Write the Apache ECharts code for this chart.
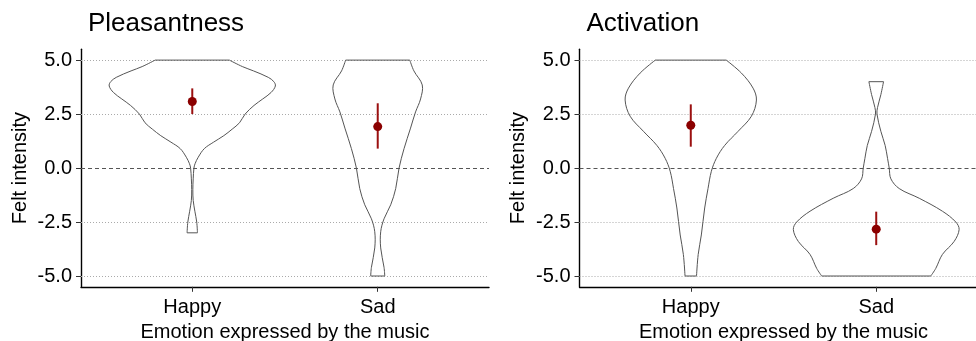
<!DOCTYPE html>
<html><head><meta charset="utf-8">
<script src="https://cdn.jsdelivr.net/npm/echarts@6/dist/echarts.min.js"></script>
<style>html,body{margin:0;padding:0;background:#fff}#c{width:976px;height:341px}</style>
</head><body><div id="c"></div>
<script>
const categories = ['Happy', 'Sad'];
const panelTitles = ['Pleasantness', 'Activation'];
const yTicks = [-5, -2.5, 0, 2.5, 5];
const gridValues = [-5, -2.5, 2.5, 5];

// Violin outlines: felt-intensity levels and half-widths (in category units)
const pleasHappyY = [5, 4.7, 4.5, 4.2, 4.0, 3.8, 3.5, 3.2, 2.9, 2.5, 2.1, 1.8, 1.5, 1.2, 0.9, 0.5, 0.2, 0, -0.5, -1, -1.5, -2, -2.5, -3];
const pleasHappyW = [0.2, 0.27, 0.33, 0.41, 0.44, 0.448, 0.425, 0.38, 0.333, 0.285, 0.255, 0.215, 0.17, 0.115, 0.065, 0.032, 0.015, 0.009, 0.005, 0.003, 0.005, 0.014, 0.024, 0.028];
const pleasSadY = [5, 4.5, 3.85, 3.2, 2.6, 1.85, 0.9, 0, -0.95, -1.7, -2.35, -2.95, -3.7, -4.6, -5];
const pleasSadW = [0.173, 0.195, 0.24, 0.231, 0.204, 0.177, 0.142, 0.115, 0.097, 0.07, 0.034, 0.016, 0.016, 0.034, 0.038];
const actHappyY = [5, 4.4, 3.7, 3.15, 2.4, 1.7, 1.05, 0.45, -0.15, -0.95, -1.85, -3.1, -4.0, -5];
const actHappyW = [0.191, 0.273, 0.336, 0.354, 0.327, 0.255, 0.183, 0.138, 0.111, 0.093, 0.075, 0.057, 0.04, 0.031];
const actSadY = [4, 3.4, 2.8, 2.5, 1.7, 1.05, 0.45, 0, -0.5, -0.95, -1.4, -2.0, -2.5, -2.85, -3.4, -4.0, -4.65, -5];
const actSadW = [0.0395, 0.025, 0.007, 0.004, 0.025, 0.048, 0.061, 0.07, 0.079, 0.124, 0.232, 0.357, 0.429, 0.447, 0.42, 0.357, 0.321, 0.294];

// Means with confidence intervals
const pleasMean = [3.08, 1.92];
const pleasLow = [2.5, 0.9];
const pleasHigh = [3.69, 3.0];
const actMean = [1.98, -2.83];
const actLow = [0.99, -3.57];
const actHigh = [2.95, -2.02];

const FONT = 'Liberation Sans, Arial, sans-serif';
const panels = [
  {violins: [[pleasHappyY, pleasHappyW], [pleasSadY, pleasSadW]], mean: pleasMean, low: pleasLow, high: pleasHigh},
  {violins: [[actHappyY, actHappyW], [actSadY, actSadW]], mean: actMean, low: actLow, high: actHigh}
];
const gridLefts = [81, 579.5];

const grids = [], xAxes = [], yAxes = [], series = [], titles = [];
panels.forEach((p, i) => {
  grids.push({left: gridLefts[i], top: 49.3, width: 408, height: 237.5, outerBoundsMode: 'none', containLabel: false});
  titles.push({text: panelTitles[i], left: gridLefts[i] + 7, top: 11, padding: 0,
    textStyle: {fontFamily: FONT, fontSize: 26, fontWeight: 'normal', color: '#000'}});
  xAxes.push({
    type: 'value', gridIndex: i, min: 0.4, max: 2.6,
    name: 'Emotion expressed by the music', nameLocation: 'middle', nameGap: 33,
    nameTextStyle: {fontFamily: FONT, fontSize: 20, color: '#000'},
    axisLine: {show: true, onZero: false, lineStyle: {color: '#000', width: 1.4}},
    axisTick: {show: true, length: 5, lineStyle: {color: '#333'}, customValues: [1, 2]},
    axisLabel: {customValues: [1, 2], formatter: v => categories[Math.round(v) - 1] || '',
      fontFamily: FONT, fontSize: 20, color: '#000', margin: 11},
    splitLine: {show: false}
  });
  yAxes.push({
    type: 'value', gridIndex: i, min: -5.5, max: 5.5,
    name: 'Felt intensity', nameLocation: 'middle', nameGap: 51,
    nameTextStyle: {fontFamily: FONT, fontSize: 20, color: '#000'},
    axisLine: {show: true, onZero: false, lineStyle: {color: '#000', width: 1.4}},
    axisTick: {show: true, length: 5, lineStyle: {color: '#333'}, customValues: yTicks},
    axisLabel: {customValues: yTicks, formatter: v => v.toFixed(1),
      fontFamily: FONT, fontSize: 20, color: '#000', margin: 9},
    splitLine: {show: false}
  });
  // violins
  series.push({
    type: 'custom', xAxisIndex: i, yAxisIndex: i, silent: true, z: 3,
    data: categories.map((c, k) => [k + 1, p.violins[k][0][0]]),
    renderItem: (params, api) => {
      const k = params.dataIndex;
      const ys = p.violins[k][0], ws = p.violins[k][1];
      const cx = k + 1;
      const left = ys.map((y, j) => api.coord([cx - ws[j], y]));
      const right = ys.map((y, j) => api.coord([cx + ws[j], y]));
      const st = {stroke: '#555', lineWidth: 1, fill: null};
      return {type: 'group', children: [
        {type: 'polyline', shape: {points: left, smooth: 0.35}, style: st},
        {type: 'polyline', shape: {points: right, smooth: 0.35}, style: st},
        {type: 'line', shape: {x1: left[0][0], y1: left[0][1], x2: right[0][0], y2: right[0][1]}, style: st},
        {type: 'line', shape: {x1: left[left.length-1][0], y1: left[left.length-1][1], x2: right[right.length-1][0], y2: right[right.length-1][1]}, style: st}
      ]};
    }
  });
  // CI lines
  series.push({
    type: 'custom', xAxisIndex: i, yAxisIndex: i, silent: true, z: 4,
    data: categories.map((c, k) => [k + 1, p.low[k], p.high[k]]),
    renderItem: (params, api) => {
      const a = api.coord([api.value(0), api.value(1)]);
      const b = api.coord([api.value(0), api.value(2)]);
      return {type: 'line', shape: {x1: a[0], y1: a[1], x2: b[0], y2: b[1]}, style: {stroke: '#9b1010', lineWidth: 2}};
    }
  });
  // means + reference lines
  series.push({
    type: 'scatter', xAxisIndex: i, yAxisIndex: i, silent: true, z: 5,
    symbol: 'circle', symbolSize: 9,
    itemStyle: {color: '#8B0000', opacity: 1},
    data: categories.map((c, k) => [k + 1, p.mean[k]]),
    markLine: {
      silent: true, symbol: 'none', label: {show: false}, animation: false, z: 1,
      data: gridValues.map(v => ({yAxis: v, lineStyle: {type: [1, 2], color: '#aaa', width: 1}}))
        .concat([{yAxis: 0, lineStyle: {type: [4, 3], color: '#555', width: 1}}])
    }
  });
});

const chart = echarts.init(document.getElementById('c'), null, {renderer: 'canvas'});
chart.setOption({
  animation: false, backgroundColor: '#fff',
  title: titles, grid: grids, xAxis: xAxes, yAxis: yAxes, series: series
});
</script></body></html>
